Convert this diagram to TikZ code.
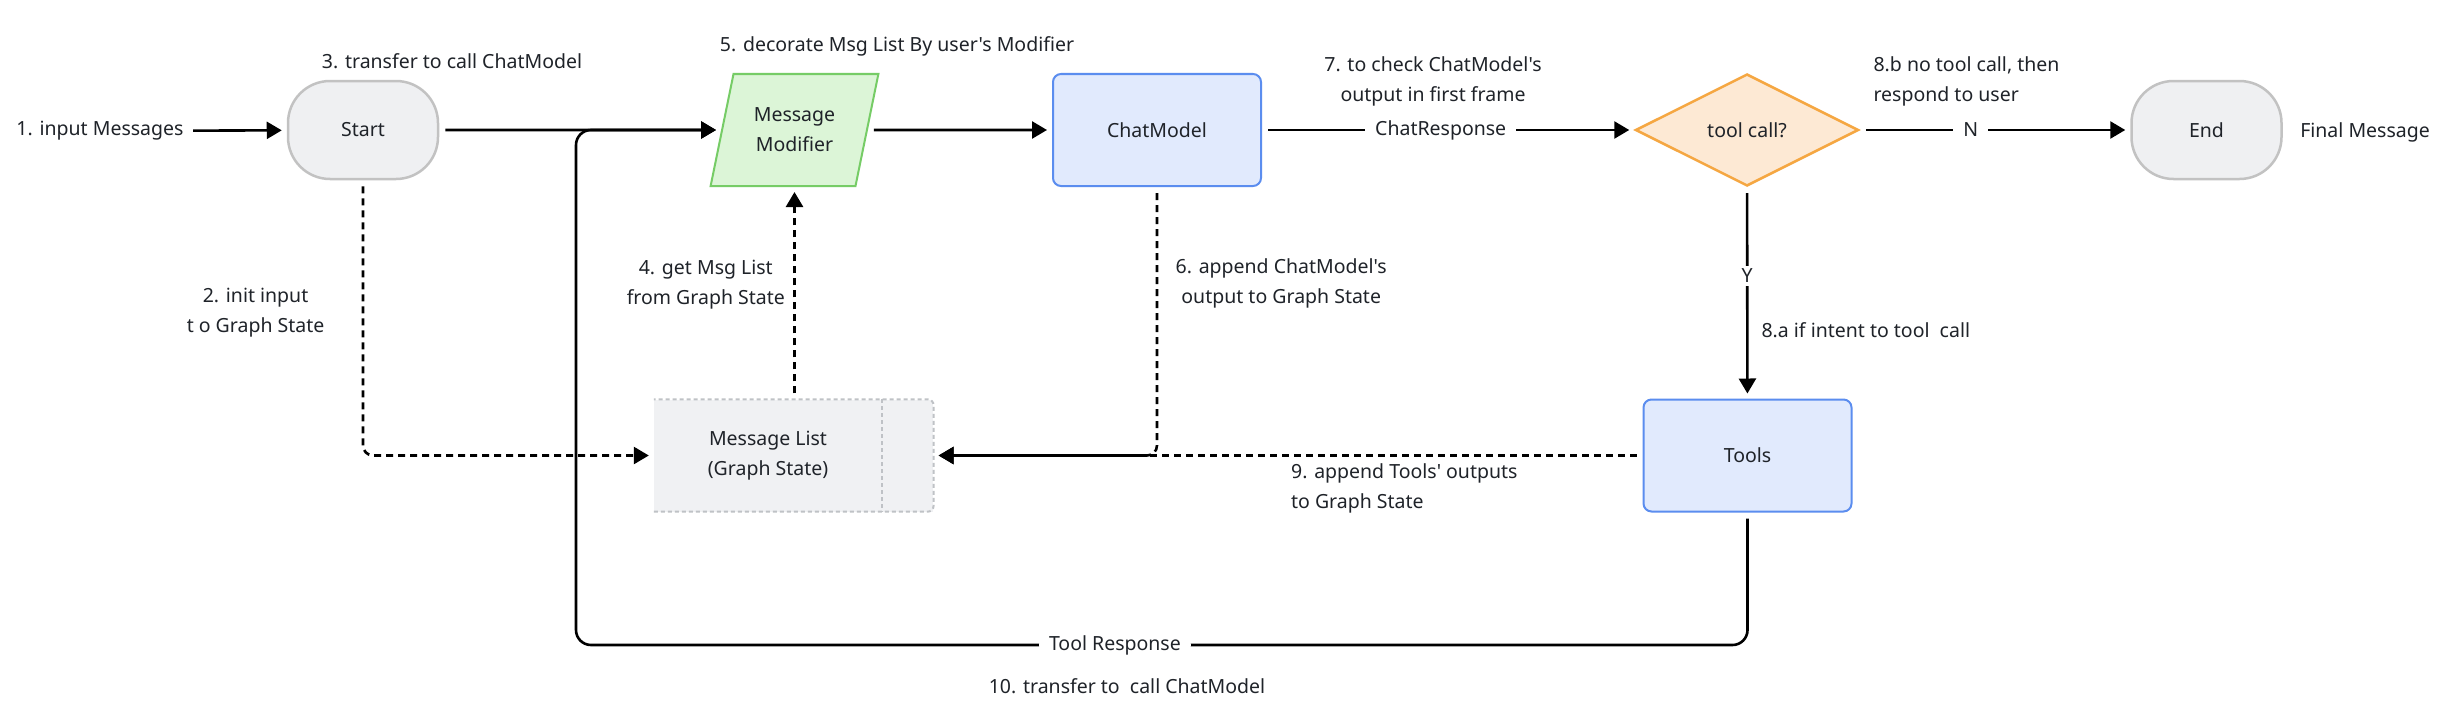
\documentclass[tikz,border=0pt]{standalone}
\usepackage{fontspec}
\setmainfont{Noto Sans}[Ligatures=TeXOff]
\usepackage{xcolor}
\usepackage{tikz}
\usetikzlibrary{positioning,calc,arrows.meta,shapes.geometric}
\definecolor{txtDark}{HTML}{1F2329}
\definecolor{termFill}{HTML}{EFF0F2}
\definecolor{termLine}{HTML}{C2C2C2}
\definecolor{modFill}{HTML}{DCF5D7}
\definecolor{modLine}{HTML}{76CC66}
\definecolor{blueFill}{HTML}{E1EAFD}
\definecolor{blueLine}{HTML}{5B8DEF}
\definecolor{decFill}{HTML}{FDE9D4}
\definecolor{decLine}{HTML}{F5A742}
\definecolor{stateFill}{HTML}{F0F1F3}
\definecolor{stateLine}{HTML}{BFC2C6}
\tikzset{
  noteTxt/.style={
    font=\fontsize{19.5pt}{30pt}\selectfont,
    text=txtDark,
    align=center
  },
  termBox/.style={
    noteTxt,
    rectangle,
    rounded corners=42pt,
    draw=termLine,
    fill=termFill,
    line width=2.5pt,
    minimum width=150pt,
    minimum height=98pt
  },
  modBox/.style={
    noteTxt,
    trapezium,
    trapezium left angle=72,
    trapezium right angle=108,
    trapezium stretches=true,
    draw=modLine,
    fill=modFill,
    line width=2pt,
    minimum width=168pt,
    minimum height=112pt
  },
  procBox/.style={
    noteTxt,
    rectangle,
    rounded corners=8pt,
    draw=blueLine,
    fill=blueFill,
    line width=2pt,
    minimum width=208pt,
    minimum height=112pt
  },
  decisionBox/.style={
    noteTxt,
    diamond,
    draw=decLine,
    fill=decFill,
    line width=2.5pt,
    inner sep=0pt,
    minimum width=223pt,
    minimum height=112pt
  },
  stateBox/.style={
    noteTxt,
    rectangle,
    fill=stateFill,
    minimum height=112pt
  },
  stateEdge/.style={
    draw=stateLine,
    line width=2pt,
    dash pattern=on 4pt off 3pt
  },
  lineLabel/.style={
    noteTxt,
    fill=white,
    inner xsep=10pt
  },
  arrowLine/.style={
    -{Triangle[length=15pt,width=17pt]},
    line width=2.6pt,
    shorten <=6pt,
    shorten >=5pt
  },
  dashArrow/.style={
    arrowLine,
    dash pattern=on 7pt off 5pt
  }
}
\begin{document}
\begin{tikzpicture}[x=1pt,y=-1pt]
  \useasboundingbox[fill=white] (0,0) rectangle (2446,709);

  \node[termBox] (start) at (363,130) {Start};
  \node[modBox] (modifier) at (794.5,130) {Message\\Modifier};
  \node[procBox] (chatModel) at (1157,130) {ChatModel};
  \node[decisionBox] (toolCall) at (1747,130) {tool call?};
  \node[termBox] (end) at (2206.5,130) {End};
  \node[procBox] (tools) at (1747.5,455.5) {Tools};
  \node[stateBox, minimum width=228pt] (msgList) at (768,455.5) {Message List\\(Graph State)};
  \node[stateBox, minimum width=51pt, right=0pt of msgList] (msgListTail) {};
  \draw[stateEdge, rounded corners=6pt] (msgList.south west) -- (msgListTail.south east) -- (msgListTail.north east) -- (msgList.north west);
  \draw[stateEdge] (msgListTail.north west) -- (msgListTail.south west);

  \node[noteTxt] (inputTxt) at (100,131) {1. input Messages};
  \node[noteTxt] (transferTxt) at (452,61) {3. transfer to call ChatModel};
  \node[noteTxt] (decorateTxt) at (897,46) {5. decorate Msg List By user's Modifier};
  \node[noteTxt] (checkTxt) at (1433,81) {7. to check ChatModel's\\output in first frame};
  \node[noteTxt, anchor=west, align=left] (noCallTxt) at (1870,81) {8.b no tool call, then\\respond to user};
  \node[noteTxt, anchor=west] (intentTxt) at (1758,330) {8.a if intent to tool\ \ call};
  \node[noteTxt] (finalTxt) at (2365,132) {Final Message};
  \node[noteTxt] (backTxt) at (1127,686) {10. transfer to\ \ call ChatModel};

  \draw[arrowLine] (inputTxt) -- (start);
  \draw[arrowLine] (start) -- (modifier);
  \draw[arrowLine] (modifier) -- (chatModel);
  \draw[arrowLine] (chatModel) -- node[lineLabel, pos=0.48]{ChatResponse} (toolCall);
  \draw[arrowLine] (toolCall) -- node[lineLabel, pos=0.41]{N} (end);
  \draw[arrowLine] (toolCall) -- node[lineLabel, pos=0.42]{Y} (tools);

  \coordinate (loopLow) at (576,645);
  \draw[arrowLine, rounded corners=15pt] (tools.south) -- (tools.south |- loopLow) -- node[lineLabel, pos=0.54]{Tool Response} (loopLow) |- (modifier.west);

  \draw[dashArrow, rounded corners=10pt] (start.south) -- node[noteTxt, pos=0.48, left=34pt]{2. init input\\t o Graph State} (start.south |- msgList.west) -- (msgList.west);
  \draw[dashArrow] (modifier.center |- msgList.north) -- node[noteTxt, pos=0.54, left=5pt]{4. get Msg List\\from Graph State} (modifier.center |- modifier.south);
  \draw[dashArrow, rounded corners=10pt] (chatModel.south) -- node[noteTxt, pos=0.36, right=14pt]{6. append ChatModel's\\output to Graph State} (chatModel.south |- msgListTail.east) -- (msgListTail.east);
  \draw[dashArrow] (tools.west) -- node[noteTxt, pos=0.336, below=4pt, align=left]{9. append Tools' outputs\\to Graph State} (msgListTail.east);
\end{tikzpicture}
\end{document}
